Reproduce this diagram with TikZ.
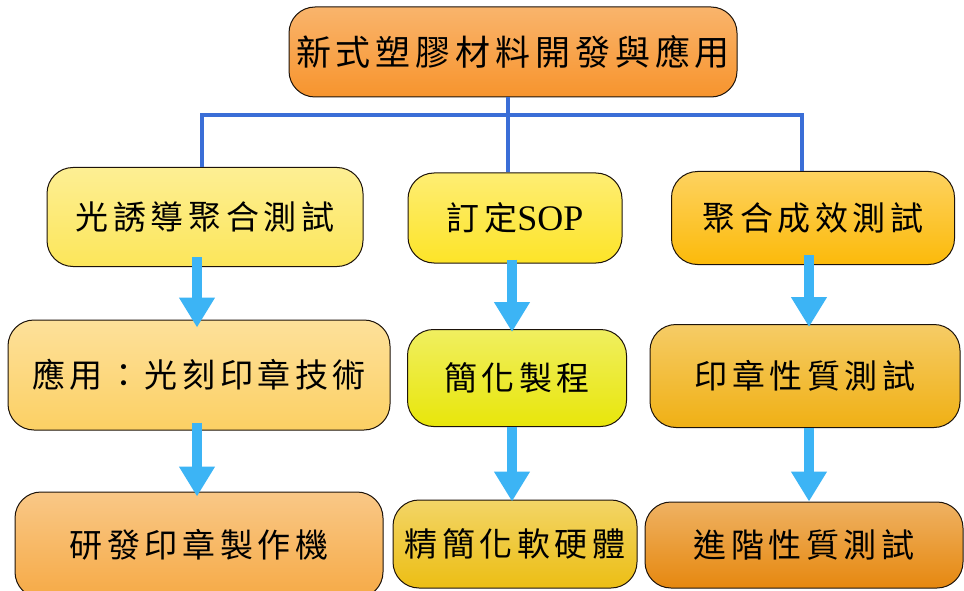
\documentclass[tikz,border=0pt]{standalone}
\usepackage{fontspec}
\setmainfont{Liberation Serif}
\newfontfamily\cjk[LetterSpace=14]{Noto Sans CJK TC}
\newfontfamily\latn{Liberation Serif}
\usetikzlibrary{arrows.meta,calc}
\definecolor{cTop}{RGB}{247,148,45}
\definecolor{cAa}{RGB}{252,230,90}
\definecolor{cBa}{RGB}{253,228,40}
\definecolor{cCa}{RGB}{252,186,10}
\definecolor{cAb}{RGB}{252,208,100}
\definecolor{cBb}{RGB}{232,230,10}
\definecolor{cCb}{RGB}{240,176,20}
\definecolor{cAc}{RGB}{246,170,70}
\definecolor{cBc}{RGB}{236,190,20}
\definecolor{cCc}{RGB}{230,136,15}
\definecolor{busblue}{RGB}{58,110,215}
\definecolor{flowblue}{RGB}{60,180,245}
\tikzset{
  box/.style={draw=black!85!brown, line width=1pt, rounded corners=26pt,
    align=center, inner sep=0pt, font=\cjk\fontsize{33}{37}\selectfont},
  bus/.style={draw=busblue, line width=4pt},
  flow/.style={draw=flowblue, line width=10pt,
    -{Triangle[width=34pt,length=30pt]}},
}
\begin{document}
\begin{tikzpicture}[x=1pt,y=-1pt]
\useasboundingbox[fill=white] (0,0) rectangle (964,591);
% top
\node[box, top color=cTop!70!white, bottom color=cTop, minimum width=448pt, minimum height=90pt,
  font=\cjk\fontsize{35}{39}\selectfont] (top) at (513,52) {新式塑膠材料開發與應用};
% row 1
\node[box, top color=cAa!65!white, bottom color=cAa, minimum width=316pt, minimum height=99pt] (A1) at (205,217) {光誘導聚合測試};
\node[box, top color=cBa!65!white, bottom color=cBa, minimum width=214pt, minimum height=90pt] (B1) at (515,218) {訂定{\latn\fontsize{36}{40}\selectfont SOP}};
\node[box, top color=cCa!65!white, bottom color=cCa, minimum width=283pt, minimum height=93pt] (C1) at (813,218) {聚合成效測試};
% row 2
\node[box, top color=cAb!65!white, bottom color=cAb, minimum width=382pt, minimum height=110pt] (A2) at (199,375) {應用：光刻印章技術};
\node[box, top color=cBb!65!white, bottom color=cBb, minimum width=219pt, minimum height=97pt] (B2) at (517,378) {簡化製程};
\node[box, top color=cCb!65!white, bottom color=cCb, minimum width=310pt, minimum height=103pt] (C2) at (805,376) {印章性質測試};
% row 3
\node[box, top color=cAc!65!white, bottom color=cAc, minimum width=368pt, minimum height=106pt] (A3) at (199,545) {研發印章製作機};
\node[box, top color=cBc!65!white, bottom color=cBc, minimum width=244pt, minimum height=88pt] (B3) at (515,544) {精簡化軟硬體};
\node[box, top color=cCc!65!white, bottom color=cCc, minimum width=318pt, minimum height=86pt] (C3) at (804,545) {進階性質測試};
% bus connector
\coordinate (j) at (508,115);
\coordinate (xa) at (202,0);
\coordinate (xc) at (802,0);
\draw[bus] (top.south -| j) -- (j);
\draw[bus] (A1.north -| xa) |- (j) -| (C1.north -| xc);
\draw[bus] (j) -- (B1.north -| j);
% flow arrows (vertical, fixed columns)
\coordinate (fa) at (197,0);
\coordinate (fb) at (512,0);
\coordinate (fc) at (809,0);
\draw[flow] ([yshift=10pt]A1.south -| fa) -- ([yshift=-8pt]A2.north -| fa);
\draw[flow] ([yshift=8pt]A2.south -| fa) -- ([yshift=-5pt]A3.north -| fa);
\draw[flow] ([yshift=4pt]B1.south -| fb) -- ([yshift=-3pt]B2.north -| fb);
\draw[flow] ([yshift=0pt]B2.south -| fb) -- ([yshift=-2pt]B3.north -| fb);
\draw[flow] ([yshift=10pt]C1.south -| fc) -- ([yshift=-3pt]C2.north -| fc);
\draw[flow] ([yshift=0pt]C2.south -| fc) -- ([yshift=0pt]C3.north -| fc);
\end{tikzpicture}
\end{document}
